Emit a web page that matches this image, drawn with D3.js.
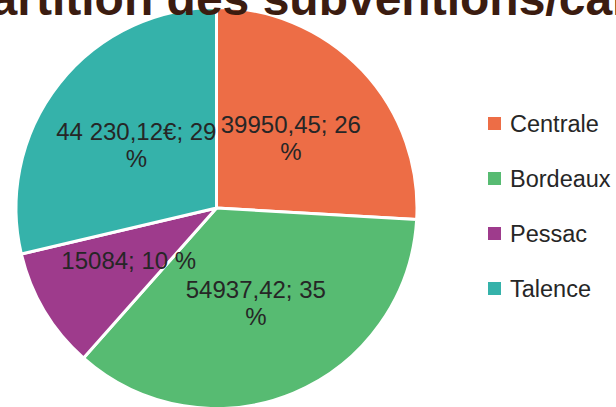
<!DOCTYPE html>
<html>
<head>
<meta charset="utf-8">
<script src="https://cdn.jsdelivr.net/npm/d3@7"></script>
<style>
  body { margin: 0; background: #ffffff; }
</style>
</head>
<body>
<div id="canvas"></div>
<script>
"use strict"

// data
let campus = ["Centrale", "Bordeaux", "Pessac", "Talence"];
let montants = [39950.45, 54937.42, 15084, 44230.12];
let montantLabels = ["39950,45", "54937,42", "15084", "44 230,12€"];
let pourcentLabels = ["26", "35", "10", "29"];
let couleurs = ["#ED6D46", "#57BB72", "#9E3B8C", "#35B2AA"];

let titre = "Répartition des subventions/campus";

let drawing = d3.select("#canvas")
    .append("svg")
    .attr("width", 616)
    .attr("height", 407);

/* the pie is drawn around its centre (pieX, pieY), labels sit on the arc centroid */
let pieX = 216.5;
let pieY = 208;
let rayon = 200.5;

let color = d3.scaleOrdinal()
    .domain(campus)
    .range(couleurs);

let pie = d3.pie()
    .sort(null)
    .value(d => d.montant);

let arc = d3.arc()
    .innerRadius(0)
    .outerRadius(rayon);

let labelArc = d3.arc()
    .innerRadius(rayon * 0.51)
    .outerRadius(rayon * 0.51);

let rows = campus.map((c, i) => ({
    campus: c,
    montant: montants[i],
    label: montantLabels[i] + "; " + pourcentLabels[i] + " %"
}));

let pieGroup = drawing.append("g")
    .attr("transform", "translate(" + pieX + "," + pieY + ")");

pieGroup.selectAll("path")
    .data(pie(rows))
    .enter()
    .append("path")
    .attr("d", arc)
    .attr("fill", d => color(d.data.campus))
    .attr("stroke", "#ffffff")
    .attr("stroke-width", 3)
    .attr("stroke-linejoin", "round");

// data labels, wrapped when too wide (like the original)
let labels = pieGroup.selectAll("text.label")
    .data(pie(rows))
    .enter()
    .append("text")
    .attr("class", "label")
    .attr("text-anchor", "middle")
    .attr("font-family", "Liberation Sans, Arial, sans-serif")
    .attr("font-size", 24)
    .attr("fill", "#262626");

labels.each(function(d) {
    let t = d3.select(this);
    let c = labelArc.centroid(d);
    let probe = t.append("tspan").text(d.data.label);
    let lines = [d.data.label];
    if (probe.node().getComputedTextLength() > 145) {
        let cut = d.data.label.lastIndexOf(" ");
        lines = [d.data.label.slice(0, cut), d.data.label.slice(cut + 1)];
    }
    probe.remove();
    let lineH = 27;
    let y0 = c[1] - (lines.length - 1) * lineH / 2 + 9;
    lines.forEach((l, k) => {
        t.append("tspan")
            .attr("x", c[0])
            .attr("y", y0 + k * lineH)
            .text(l);
    });
});

// title (cut off by the frame in the original)
drawing.append("text")
    .attr("x", 320)
    .attr("y", 15)
    .attr("text-anchor", "middle")
    .attr("font-family", "Liberation Sans, Arial, sans-serif")
    .attr("font-weight", "bold")
    .attr("font-size", 48)
    .attr("fill", "#3B1C10")
    .text(titre);

// legend
let legendY = d3.scalePoint()
    .domain(campus)
    .range([123.5, 288.5]);

let legend = drawing.append("g");

legend.selectAll("rect")
    .data(campus)
    .enter()
    .append("rect")
    .attr("x", 488)
    .attr("y", d => legendY(d) - 6.5)
    .attr("width", 13)
    .attr("height", 13)
    .attr("fill", d => color(d));

legend.selectAll("text")
    .data(campus)
    .enter()
    .append("text")
    .attr("x", 510)
    .attr("y", d => legendY(d) + 8.5)
    .attr("font-family", "Liberation Sans, Arial, sans-serif")
    .attr("font-size", 23.5)
    .attr("fill", "#262626")
    .text(d => d);
</script>
</body>
</html>
